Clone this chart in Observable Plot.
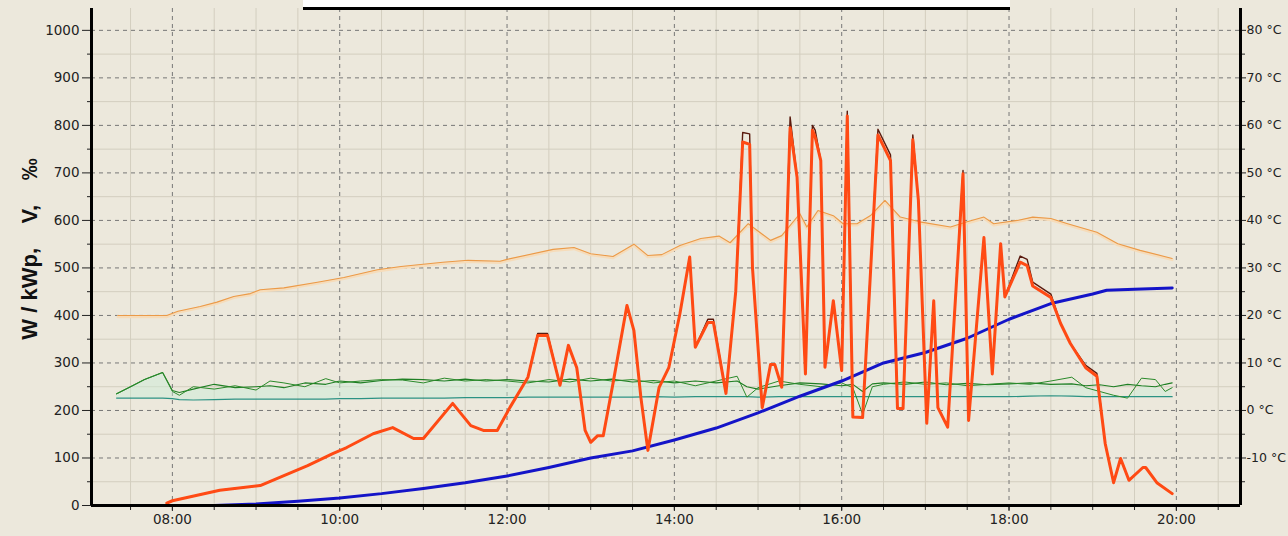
<!DOCTYPE html>
<html><head><meta charset="utf-8">
<script src="https://cdn.jsdelivr.net/npm/d3@7"></script>
<script src="https://cdn.jsdelivr.net/npm/@observablehq/plot@0.6"></script>
<style>
body{margin:0;background:#ece8dc;}
#wrap{position:relative;width:1288px;height:536px;overflow:hidden;background:#ece8dc;}
#topbox{position:absolute;left:303px;top:0;width:707px;height:7px;background:#fff;border-bottom:3px solid #000;}
</style></head><body><div id="wrap"></div>
<script>
// ---- data ----
// Power (W/kWp), two strings
const pTimes = ["07:56","08:00","08:34","09:03","09:37","09:55","10:05","10:24","10:38","10:53","11:00","11:21","11:34","11:43","11:53","12:02","12:15","12:22","12:29","12:38","12:44","12:50","12:56","13:00","13:05","13:09","13:16","13:26","13:31","13:36","13:41","13:49","13:56","14:04","14:11","14:15","14:24","14:28","14:37","14:44","14:49","14:54","14:56","15:03","15:09","15:12","15:17","15:23","15:28","15:34","15:39","15:41","15:45","15:48","15:54","16:00","16:04","16:08","16:15","16:26","16:35","16:40","16:44","16:51","16:55","17:01","17:06","17:09","17:16","17:27","17:31","17:42","17:48","17:54","17:57","18:08","18:13","18:17","18:30","18:37","18:44","18:55","19:03","19:09","19:15","19:20","19:26","19:36","19:38","19:46","19:57"];
const powerA = [5,10,32,42,84,109,122,151,164,141, 141,215,168,158,158,206,270,358,358,253, 337,290,158,133,147,147,257,421,368,227, 116,248,290,404,523,333,385,385,236,450, 765,760,501,206,297,297,249,795,691,277, 790,775,726,291,431,284,820,186,185,780, 726,204,204,770,642,173,431,206,165,698, 179,564,277,551,439,512,505,462,438,383, 341,290,272,130,48,99,53,80,80,48, 25];
const powerB = [5,10,32,42,84,109,122,151,164,141, 141,215,168,158,158,206,270,362,362,253, 337,290,158,133,147,147,257,421,368,227, 116,248,290,404,523,333,392,392,236,450, 785,782,501,206,297,297,249,818,691,277, 800,790,726,291,431,284,830,186,185,792, 738,204,204,780,642,173,431,206,165,705, 179,564,277,551,439,525,518,470,445,383, 341,295,278,130,48,99,53,80,80,48, 25];

// Energy (blue)
const eTimes = ["07:55","08:30","09:00","09:30","10:00","10:30","11:00","11:30","12:00","12:30","13:00","13:30","14:00","14:30","15:00","15:30","16:00","16:30","17:00","17:30","18:00","18:30","19:00","19:10","19:30","19:57"];
const energy = [0,0,3,9,16,25,36,48,62,80,100,115,138,163,195,230,262,300,322,352,392,425,445,453,455,458];

// Module temperature (°C, right axis)
const tTimes = ["07:21","07:56","08:04","08:20","08:32","08:44","08:56","09:03","09:20","09:44","10:03","10:27","10:44","11:14","11:32","11:55","12:00","12:33","12:48","13:00","13:16","13:31","13:41","13:51","14:04","14:19","14:32","14:40","14:53","15:09","15:17","15:30","15:35","15:43","15:54","16:01","16:11","16:21","16:31","16:42","16:56","17:18","17:30","17:42","17:49","18:06","18:17","18:30","18:42","19:03","19:18","19:34","19:57"];
const tempC = [20.0,20.0,20.9,21.9,22.8,24.0,24.6,25.4,25.8,27.0,28.0,29.6,30.3,31.2,31.6,31.4,31.8,33.9,34.3,33.0,32.4,35.0,32.6,32.8,34.7,36.2,36.7,35.3,39.3,35.8,36.8,41.4,38.6,42.1,41.0,39.3,39.3,41.1,44.2,40.7,39.7,38.6,39.7,40.7,39.3,40.0,40.7,40.4,39.3,37.5,35.1,33.7,32.0];

// Green / teal series
const gTimes = ["07:20","07:30","07:40","07:53","08:00","08:05","08:15","08:30","08:45","09:00","09:10","09:20","09:35","09:50","10:00","10:15","10:30","10:45","11:00","11:15","11:30","11:45","12:00","12:15","12:30","12:45","13:00","13:15","13:30","13:45","14:00","14:15","14:30","14:45","14:52","15:00","15:15","15:30","15:45","16:00","16:08","16:15","16:22","16:30","16:45","17:00","17:15","17:30","17:45","18:00","18:15","18:30","18:45","18:55","19:05","19:15","19:25","19:35","19:45","19:52","19:57"];
const greenA = [235,250,265,280,240,232,250,245,252,243, 262,258,250,267,258,262,265,264,258,268, 262,265,262,258,265,260,268,262,265,258, 262,252,262,272,228,248,262,255,250,258, 248,192,250,255,260,255,258,252,255,258, 255,262,270,248,240,232,226,268,265,240, 248];
const greenB = [235,250,265,280,242,238,245,255,248,250, 252,248,258,255,262,258,263,266,265,262, 266,262,265,262,260,266,262,266,260,263, 258,262,258,262,250,245,252,258,256,252, 255,240,256,258,255,260,254,257,254,256, 258,255,256,252,254,250,255,252,250,255, 258];
const teal = [226,226,226,226,225,223,222,223,224,224, 224,224,224,224,225,225,226,226,226,226, 227,227,227,228,228,228,228,228,228,229, 228,229,229,229,229,228,229,229,229,229, 229,229,229,229,229,229,229,229,229,229, 230,231,230,229,229,229,229,229,229,229, 229];

// Axis ticks
const leftTicks = d3.range(0, 1001, 100);
const leftMinor = d3.range(50, 1001, 100);
const rightTicksC = d3.range(-10, 81, 10);
const rightMinorC = d3.range(-15, 76, 10);
const hourLabels = ["08:00","10:00","12:00","14:00","16:00","18:00","20:00"];
const yTitle = "W / kWp,\u00a0\u00a0\u00a0\u00a0V,\u00a0\u00a0\u00a0\u00a0‰";

// ---- helpers ----
const T = s => { const [h, m] = s.split(":").map(Number); return new Date(2010, 6, 1, h, m); };
const cToW = c => 200 + 10 * c;   // right axis mapping onto left scale
const x0 = T("07:02"), x1 = T("20:46");
const halfHours = d3.timeMinute.every(30).range(T("07:30"), T("20:31"));
const majorX = hourLabels.map(T);
const minorX = halfHours.filter(d => !(d.getHours() % 2 === 0 && d.getMinutes() === 0));

const power = pTimes.map((t, i) => ({t: T(t), a: powerA[i], b: powerB[i]}));
const en = eTimes.map((t, i) => ({t: T(t), v: energy[i]}));
const temp = tTimes.map((t, i) => ({t: T(t), v: cToW(tempC[i])}));
const grn = gTimes.map((t, i) => ({t: T(t), a: greenA[i], b: greenB[i], c: teal[i], lo: Math.min(greenA[i], greenB[i])}));

const fmt = d3.timeFormat("%H:%M");

const plot = Plot.plot({
  width: 1288, height: 536,
  marginLeft: 91, marginRight: 48, marginTop: 8, marginBottom: 31,
  style: {background: "#ece8dc", fontFamily: "DejaVu Sans", fontSize: "13.5px", color: "#222", overflow: "visible"},
  x: {type: "time", domain: [x0, x1]},
  y: {domain: [0, 1046]},
  marks: [
    Plot.gridX(minorX, {stroke: "#d3cebf", strokeOpacity: 1}),
    Plot.gridY(leftMinor, {stroke: "#d3cebf", strokeOpacity: 1}),
    Plot.gridX(majorX, {stroke: "#777", strokeOpacity: 1, strokeDasharray: "4,4"}),
    Plot.gridY(leftTicks.filter(d => d > 0), {stroke: "#777", strokeOpacity: 1, strokeDasharray: "4,4"}),
    // mint band
    Plot.areaY(grn, {x: "t", y1: "c", y2: "lo", fill: "#c9eed8", fillOpacity: 0.45}),
    Plot.lineY(grn, {x: "t", y: "c", stroke: "#2a9384", strokeWidth: 1.2}),
    Plot.lineY(grn, {x: "t", y: "b", stroke: "#1f7f24", strokeWidth: 1.1}),
    Plot.lineY(grn, {x: "t", y: "a", stroke: "#2a8a2a", strokeWidth: 1}),
    // temperature
    Plot.lineY(temp, {x: "t", y: "v", stroke: "#f6dcba", strokeWidth: 3, dy: 1.2}),
    Plot.lineY(temp, {x: "t", y: "v", stroke: "#eb9a48", strokeWidth: 1.1}),
    // energy
    Plot.lineY(en, {x: "t", y: "v", stroke: "#1414c8", strokeWidth: 3}),
    // power
    Plot.lineY(power, {x: "t", y: "b", stroke: "#5a1a0e", strokeWidth: 1.4}),
    Plot.lineY(power, {x: "t", y: "a", stroke: "#ff4a14", strokeWidth: 3}),
    // axes
    Plot.axisY(leftTicks, {anchor: "left", label: null, tickSize: 9, tickPadding: 3, tickFormat: d => String(d), stroke: "#222", fill: "#222", fontSize: 13.5}),
    Plot.axisY(leftMinor, {anchor: "left", label: null, tickSize: 4, text: null, stroke: "#222"}),
    Plot.axisY(rightTicksC.map(cToW), {anchor: "right", label: null, tickSize: 5, tickPadding: 1, tickFormat: w => `${(w - 200) / 10} °C`, stroke: "#222", fill: "#222", fontSize: 12.5}),
    Plot.axisY(rightMinorC.map(cToW), {anchor: "right", label: null, tickSize: 4, text: null, stroke: "#222"}),
    Plot.axisX(majorX, {anchor: "bottom", label: null, tickSize: 6, tickPadding: 3, tickFormat: fmt, stroke: "#222", fill: "#222", fontSize: 13.5}),
    Plot.axisX(halfHours, {anchor: "bottom", label: null, tickSize: 5, text: null, stroke: "#222"}),
    Plot.ruleX([x0], {stroke: "#000", strokeWidth: 3}),
    Plot.ruleX([x1], {stroke: "#000", strokeWidth: 3}),
    Plot.ruleY([0], {stroke: "#000", strokeWidth: 3}),
    Plot.text([yTitle], {text: d => d, frameAnchor: "left", textAnchor: "middle", dx: -62, dy: -8, rotate: -90, fontSize: 22, fontWeight: "bold", fontFamily: "Liberation Sans", fill: "#111"})
  ]
});
const wrap = document.getElementById("wrap");
wrap.appendChild(plot);
const tb = document.createElement("div");
tb.id = "topbox";
wrap.appendChild(tb);
</script></body></html>
